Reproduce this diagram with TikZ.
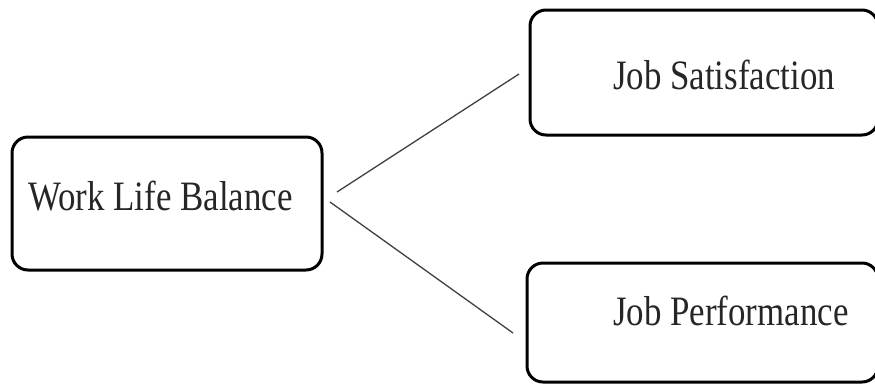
\documentclass[tikz,border=0pt]{standalone}
\usepackage{fontspec}
\setmainfont{Liberation Serif}
\newcommand{\tallify}[1]{\scalebox{1}[1.2]{#1}}
\begin{document}
\begin{tikzpicture}[x=1bp,y=-1bp,
  box/.style={draw=black,line width=3bp,rounded corners=16bp},
  lbl/.style={anchor=base west,inner sep=0pt,font=\fontsize{35}{40}\selectfont,text=black!85},
  conn/.style={draw=black!75,line width=1.3bp}]
\useasboundingbox (0,0) rectangle (875,383);
\clip (0,0) rectangle (875,383);
% boxes
\path[box] (12,137) rectangle (322,270);
\path[box] (530,10) rectangle (878,135);
\path[box] (527,263) rectangle (878,382);
% labels
\node[lbl] (t1) at (28,210) {\tallify{Work Life Balance}};
\node[lbl] (t2) at (613,89) {\tallify{Job Satisfaction}};
\node[lbl] (t3) at (613,325) {\tallify{Job Performance}};
% connector ends
\coordinate (a1) at (337,192);
\coordinate (b1) at (519,74);
\coordinate (a2) at (330,202);
\coordinate (b2) at (513,333);
\draw[conn] (a1) -- (b1);
\draw[conn] (a2) -- (b2);
\end{tikzpicture}
\end{document}
